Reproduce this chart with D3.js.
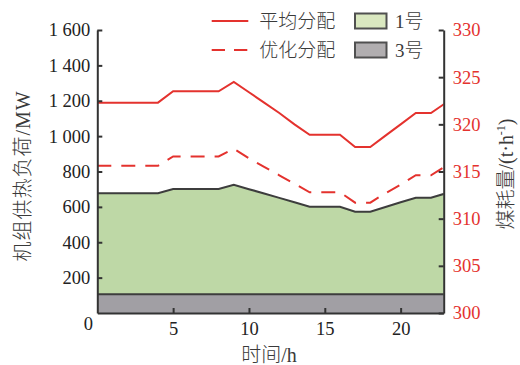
<!DOCTYPE html>
<html>
<head>
<meta charset="utf-8">
<script src="https://cdn.jsdelivr.net/npm/d3@7"></script>
<style>
  html, body { margin: 0; padding: 0; background: #fff; }
  svg { display: block; }
  text { font-family: "Liberation Serif", "Noto Sans CJK SC", serif; }
  .cjk { font-weight: 300; }
</style>
</head>
<body>
<svg id="chart" width="520" height="365"></svg>
<script>
// Hour of day
const hours = [0, 1, 2, 3, 4, 5, 6, 7, 8, 9, 10, 11, 12, 13, 14, 15, 16, 17, 18, 19, 20, 21, 22, 23];
// Heat load of unit 3 and unit 1 (MW), stacked
const unit3Load = [106, 106, 106, 106, 106, 106, 106, 106, 106, 106, 106, 106, 106, 106, 106, 106, 106, 106, 106, 106, 106, 106, 106, 106];
const unit1Load = [571, 571, 571, 571, 571, 595, 595, 595, 595, 619, 594, 570, 545, 520, 495, 495, 495, 467, 467, 493, 520, 546, 546, 571];
// Coal consumption (t/h): average vs optimised allocation
const avgCoal = [322.3, 322.3, 322.3, 322.3, 322.3, 323.5, 323.5, 323.5, 323.5, 324.5, 323.4, 322.3, 321.2, 320.0, 318.9, 318.9, 318.9, 317.6, 317.6, 318.8, 320.0, 321.2, 321.2, 322.3];
const optCoal = [315.6, 315.6, 315.6, 315.6, 315.6, 316.6, 316.6, 316.6, 316.6, 317.4, 316.4, 315.5, 314.6, 313.7, 312.8, 312.8, 312.8, 311.7, 311.7, 312.7, 313.6, 314.6, 314.6, 315.6];
// Axis ticks
const xTicks = [5, 10, 15, 20];
const loadTicks = [200, 400, 600, 800, 1000, 1200, 1400, 1600];
const coalTicks = [300, 305, 310, 315, 320, 325, 330];
// Legend entries
const lineLegend = ["平均分配", "优化分配"];
const areaLegend = ["1号", "3号"];

const red = "#e4322e";
const axisColor = "#333";
const textColor = "#3a3a3a";
const green = "#bed8a6";
const gray = "#a19fa4";

const svg = d3.select("#chart");
const plotLeft = 97.3, plotRight = 443.7, plotTop = 30, plotBottom = 313;

const x = d3.scaleLinear().domain([0, 22.84]).range([plotLeft, plotRight]);
const yLoad = d3.scaleLinear().domain([0, 1600]).range([plotBottom, plotTop]);
const yCoal = d3.scaleLinear().domain([300, 330]).range([plotBottom, plotTop]);

const fmt = d3.formatLocale({ decimal: ".", thousands: " ", grouping: [3], currency: ["", ""] }).format(",");

svg.append("defs").append("clipPath").attr("id", "plot")
  .append("rect").attr("x", plotLeft).attr("y", 0).attr("width", plotRight - plotLeft).attr("height", plotBottom);

const plot = svg.append("g").attr("clip-path", "url(#plot)");

const rows = hours.map((h, i) => ({ h, u3: unit3Load[i], u1: unit1Load[i], avg: avgCoal[i], opt: optCoal[i] }));

// Stacked areas
plot.append("path").datum(rows)
  .attr("fill", gray)
  .attr("d", d3.area().x(d => x(d.h)).y0(yLoad(0)).y1(d => yLoad(d.u3)));
plot.append("path").datum(rows)
  .attr("fill", green)
  .attr("d", d3.area().x(d => x(d.h)).y0(d => yLoad(d.u3)).y1(d => yLoad(d.u3 + d.u1)));
plot.append("path").datum(rows)
  .attr("fill", "none").attr("stroke", "#3d3d3d").attr("stroke-width", 2)
  .attr("d", d3.line().x(d => x(d.h)).y(d => yLoad(d.u3)));
plot.append("path").datum(rows)
  .attr("fill", "none").attr("stroke", "#3d3d3d").attr("stroke-width", 2)
  .attr("d", d3.line().x(d => x(d.h)).y(d => yLoad(d.u3 + d.u1)));

// Coal consumption lines
plot.append("path").datum(rows)
  .attr("fill", "none").attr("stroke", red).attr("stroke-width", 2)
  .attr("d", d3.line().x(d => x(d.h)).y(d => yCoal(d.avg)));
plot.append("path").datum(rows)
  .attr("fill", "none").attr("stroke", red).attr("stroke-width", 2)
  .attr("stroke-dasharray", "14,10")
  .attr("d", d3.line().x(d => x(d.h)).y(d => yCoal(d.opt)));

// Axes
function styleAxis(g, color) {
  g.select(".domain").attr("stroke", axisColor).attr("stroke-width", 2);
  g.selectAll(".tick line").attr("stroke", axisColor).attr("stroke-width", 2);
  g.selectAll(".tick text").attr("fill", color).attr("font-size", 18.5)
    .attr("font-family", "Liberation Serif, serif");
}

const gx = svg.append("g").attr("transform", `translate(0,${plotBottom})`)
  .call(d3.axisBottom(x).tickValues(xTicks).tickSizeInner(-5).tickSizeOuter(0).tickPadding(9));
styleAxis(gx, "#222");

const gl = svg.append("g").attr("transform", `translate(${plotLeft},0)`)
  .call(d3.axisLeft(yLoad).tickValues(loadTicks).tickFormat(fmt).tickSizeInner(-5).tickSizeOuter(0).tickPadding(7));
styleAxis(gl, "#222");

const gr = svg.append("g").attr("transform", `translate(${plotRight},0)`)
  .call(d3.axisRight(yCoal).tickValues(coalTicks).tickSizeInner(-5).tickSizeOuter(0).tickPadding(9));
styleAxis(gr, red);

// Origin label
svg.append("text").attr("x", 93).attr("y", 329.5).attr("text-anchor", "end")
  .attr("font-size", 18.5).attr("fill", "#222").text(fmt(0));

// Axis titles
svg.append("text").attr("class", "cjk")
  .attr("transform", "translate(30,176) rotate(-90)")
  .attr("text-anchor", "middle").attr("font-size", 20).attr("fill", textColor)
  .attr("letter-spacing", 1)
  .text("机组供热负荷/MW");

const rt = svg.append("text").attr("class", "cjk")
  .attr("transform", "translate(513,174) rotate(-90)")
  .attr("text-anchor", "middle").attr("font-size", 20).attr("fill", textColor);
rt.append("tspan").text("煤耗量/(t·h");
rt.append("tspan").attr("font-size", 12).attr("dy", -8).text("-1");
rt.append("tspan").attr("dy", 8).text(")");

svg.append("text").attr("class", "cjk").attr("x", 269).attr("y", 362).attr("text-anchor", "middle")
  .attr("font-size", 20).attr("fill", textColor).text("时间/h");

// Legend
const legendY = [21, 50];
lineLegend.forEach((name, i) => {
  svg.append("line")
    .attr("x1", 211.7).attr("x2", 248.3).attr("y1", legendY[i]).attr("y2", legendY[i])
    .attr("stroke", red).attr("stroke-width", 2)
    .attr("stroke-dasharray", i === 1 ? "13.3,9" : null);
  svg.append("text").attr("class", "cjk").attr("x", 259.3).attr("y", legendY[i]).attr("dy", "0.36em")
    .attr("font-size", 19).attr("fill", textColor).text(name);
});
const legendFill = ["#dae8c0", "#b1aeb0"];
areaLegend.forEach((name, i) => {
  svg.append("rect")
    .attr("x", 355).attr("y", legendY[i] - 7.5).attr("width", 31.5).attr("height", 15)
    .attr("fill", legendFill[i]).attr("stroke", "#505050").attr("stroke-width", 2);
  svg.append("text").attr("class", "cjk").attr("x", 395).attr("y", legendY[i]).attr("dy", "0.36em")
    .attr("font-size", 19).attr("fill", textColor).text(name);
});
</script>
</body>
</html>
